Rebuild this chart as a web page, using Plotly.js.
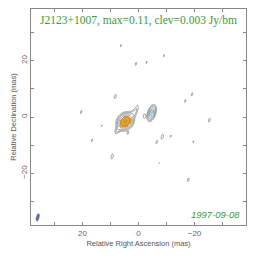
<!DOCTYPE html>
<html>
<head>
<meta charset="utf-8">
<script src="https://cdn.plot.ly/plotly-3.0.1.min.js"></script>
<style>html,body{margin:0;padding:0;background:#fff;}#chart{width:264px;height:262px;}</style>
</head>
<body>
<div id="chart"></div>
<script>
// Source components (RA mas, Dec mas, peak Jy/bm, FWHM maj, FWHM min, PA deg)
const compRA   = [4.75, 2.0, 0.6, 6.8, 7.6, 3.8, -4.7, -2.1];
const compDec  = [-1.55, 1.0, 3.2, -3.8, -5.0, -5.7, 1.4, 0.3];
const compFlux = [0.105, 0.010, 0.0045, 0.009, 0.0045, 0.0036, 0.045, 0.0045];
const compMaj  = [3.3, 3.0, 2.4, 2.6, 2.2, 1.4, 3.2, 2.2];
const compMin  = [2.7, 1.5, 1.0, 1.4, 1.0, 0.9, 1.5, 1.0];
const compPA   = [-40, -35, -20, -40, -30, -15, -18, -5];

// Noise peaks just above the lowest contour
const noiseRA   = [6.3, 0.9, -2.9, -9.1, 8.3, -19.1, -16.7, 20.5, -25.3, 13.1, 16.6, -6.5, -8.5, -11.5, -19.6, 9.4, -7.4, -17.8];
const noiseDec  = [25.4, 18.9, 19.4, 21.8, 7.3, 8.1, 5.7, 1.8, -1.1, -3.1, -8.3, -8.9, -7.0, -6.8, -8.8, -14.0, -16.4, -22.3];
const noiseFlux = [0.0032, 0.0034, 0.0032, 0.0032, 0.0037, 0.0034, 0.0033, 0.0034, 0.0036, 0.0031, 0.0033, 0.0035, 0.0040, 0.0032, 0.0032, 0.0040, 0.00305, 0.0035];

// Blue patch (second colour layer) inside the western component
const blueRA = [-4.6];
const blueDec = [1.6];
const blueFlux = [1.0];
const blueMaj = [2.4];
const blueMin = [1.2];
const bluePA = [-18];

// Restoring beam
const beamRA = [36.0];
const beamDec = [-35.7];
const beamMaj = [2.8];
const beamMin = [1.1];
const beamPA = [-15];

const clev = 0.003;
const levels = [0, 1, 2, 3, 4, 5];  // log2 steps of clev
const orangeLevel = 3.4;
const titleText = 'J2123+1007, max=0.11, clev=0.003 Jy/bm';
const dateText = '1997-09-08';
const xTickVals = [20, 0, -20];
const xTickText = ['20', '0', '\u221220'];
const yTickVals = [20, 0, -20];
const yTickText = ['20', '0', '\u221220'];

const R = 38.4, step = 0.2;
const xs = [], ys = [];
for (let v = -R; v <= R + 1e-9; v += step) { xs.push(+v.toFixed(3)); ys.push(+v.toFixed(3)); }
const k = 4 * Math.LN2;
function addGauss(z, ra, dec, f, maj, mn, pa) {
  const s = Math.sin(pa * Math.PI / 180), c = Math.cos(pa * Math.PI / 180);
  const lim = maj * 3;
  for (let j = 0; j < ys.length; j++) {
    const dd = ys[j] - dec; if (Math.abs(dd) > lim) continue;
    for (let i = 0; i < xs.length; i++) {
      const dr = xs[i] - ra; if (Math.abs(dr) > lim) continue;
      const u = dr * s + dd * c, w = dr * c - dd * s;
      z[j][i] += f * Math.exp(-k * ((u / maj) ** 2 + (w / mn) ** 2));
    }
  }
}
const zI = ys.map(() => xs.map(() => 0));
for (let n = 0; n < compRA.length; n++) addGauss(zI, compRA[n], compDec[n], compFlux[n], compMaj[n], compMin[n], compPA[n]);
for (let n = 0; n < noiseRA.length; n++) addGauss(zI, noiseRA[n], noiseDec[n], noiseFlux[n], beamMaj[0], beamMin[0], beamPA[0]);
const zL = zI.map(r => r.map(v => v > 0 ? Math.log2(v / clev) : -20));
const zB = ys.map(() => xs.map(() => 0));
for (let n = 0; n < blueRA.length; n++) addGauss(zB, blueRA[n], blueDec[n], blueFlux[n], blueMaj[n], blueMin[n], bluePA[n]);
const zOrange = zL.map((r, j) => r.map((v, i) => (v > orangeLevel && xs[i] > 1) ? 1 : null));
const zBlue = zB.map(r => r.map(v => v > 0.5 ? 1 : null));

// beam ellipse outline
const bx = [], by = [];
for (let t = 0; t <= 360; t += 10) {
  const a = t * Math.PI / 180;
  const u = beamMaj[0] / 2 * Math.cos(a), w = beamMin[0] / 2 * Math.sin(a);
  const s = Math.sin(beamPA[0] * Math.PI / 180), c = Math.cos(beamPA[0] * Math.PI / 180);
  bx.push(beamRA[0] + u * s + w * c);
  by.push(beamDec[0] + u * c - w * s);
}

const traces = [
  { type: 'heatmap', x: xs, y: ys, z: zOrange, hoverinfo: 'skip', showscale: false,
    colorscale: [[0, '#f6a21a'], [1, '#f6a21a']], zmin: 0, zmax: 2 },
  { type: 'heatmap', x: xs, y: ys, z: zBlue, hoverinfo: 'skip', showscale: false,
    colorscale: [[0, '#a4d2ea'], [1, '#a4d2ea']], zmin: 0, zmax: 2 },
  { type: 'contour', x: xs, y: ys, z: zL, hoverinfo: 'skip', showscale: false,
    colorscale: [[0, '#808080'], [1, '#808080']],
    contours: { coloring: 'lines', start: levels[0], end: levels[levels.length - 1], size: 1 },
    line: { width: 0.8, smoothing: 0.8 } },
  { type: 'scatter', mode: 'lines', x: bx, y: by, fill: 'toself', fillcolor: '#5a6aa0',
    line: { color: '#5a6aa0', width: 0.5 }, hoverinfo: 'skip', showlegend: false }
];

const axCommon = {
  ticks: 'inside', ticklen: 3, tickcolor: '#888', tickwidth: 1,
  showline: true, linecolor: '#888', linewidth: 1, mirror: 'ticks',
  showgrid: false, zeroline: false,
  minor: { dtick: 10, ticks: 'inside', ticklen: 3, tickcolor: '#888', showgrid: false },
  tickfont: { family: 'Liberation Sans, Arial, sans-serif', size: 8, color: '#666' }
};

const layout = {
  width: 264, height: 262,
  margin: { l: 31, r: 18, t: 9, b: 37 },
  paper_bgcolor: '#fff', plot_bgcolor: '#fff',
  showlegend: false,
  xaxis: Object.assign({}, axCommon, {
    range: [R, -R], tickmode: 'array', tickvals: xTickVals, ticktext: xTickText,
    title: { text: 'Relative Right Ascension (mas)', standoff: 4,
      font: { family: 'Liberation Sans, Arial, sans-serif', size: 7.5, color: '#555' } }
  }),
  yaxis: Object.assign({}, axCommon, {
    range: [-R, R], tickmode: 'array', tickvals: yTickVals, ticktext: yTickText, tickangle: -90,
    title: { text: 'Relative Declination (mas)', standoff: 2,
      font: { family: 'Liberation Sans, Arial, sans-serif', size: 7.5, color: '#555' } }
  }),
  annotations: [
    { xref: 'paper', yref: 'paper', x: 0.498, y: 0.949, xanchor: 'center', yanchor: 'middle',
      text: titleText, showarrow: false,
      font: { family: 'Liberation Serif, DejaVu Serif, serif', size: 11.5, color: '#3a9a3a' } },
    { xref: 'paper', yref: 'paper', x: 0.981, y: 0.048, xanchor: 'right', yanchor: 'middle',
      text: dateText, showarrow: false,
      font: { family: 'Liberation Sans, Arial, sans-serif', size: 9.5, color: '#3a9a3a', style: 'italic' } }
  ]
};

Plotly.newPlot('chart', traces, layout, { staticPlot: true, displayModeBar: false });
</script>
</body>
</html>
